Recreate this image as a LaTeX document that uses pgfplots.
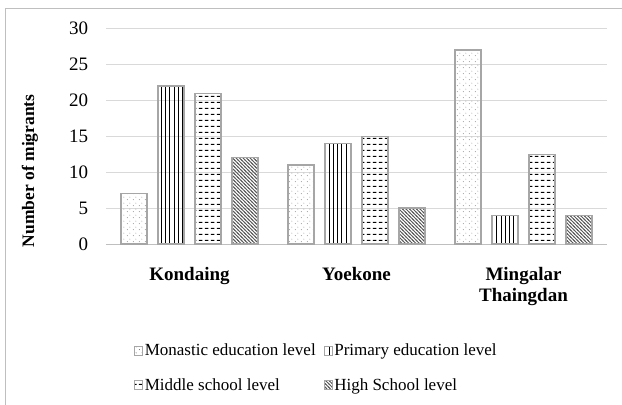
\documentclass[border=0pt]{standalone}
\usepackage{pgfplots}
\pgfplotsset{compat=1.18}
\usepackage{fontspec}
\setmainfont{Liberation Serif}
\usetikzlibrary{patterns}

\pgfdeclarepatternformonly{mydots}{\pgfqpoint{0bp}{0bp}}{\pgfqpoint{6bp}{6bp}}{\pgfqpoint{6bp}{6bp}}{%
  \pgfpathcircle{\pgfqpoint{1.5bp}{1.5bp}}{0.55bp}%
  \pgfpathcircle{\pgfqpoint{4.5bp}{4.5bp}}{0.55bp}%
  \pgfusepath{fill}}
\pgfdeclarepatternformonly{myvlines}{\pgfqpoint{0bp}{-1bp}}{\pgfqpoint{4.3bp}{5.3bp}}{\pgfqpoint{4.3bp}{4.3bp}}{%
  \pgfsetlinewidth{0.9bp}%
  \pgfpathmoveto{\pgfqpoint{2.15bp}{-1bp}}\pgfpathlineto{\pgfqpoint{2.15bp}{5.3bp}}%
  \pgfusepath{stroke}}
\pgfdeclarepatternformonly{mydashes}{\pgfqpoint{0bp}{0bp}}{\pgfqpoint{6bp}{6bp}}{\pgfqpoint{6bp}{6bp}}{%
  \pgfsetlinewidth{1.1bp}%
  \pgfpathmoveto{\pgfqpoint{1bp}{3bp}}\pgfpathlineto{\pgfqpoint{5bp}{3bp}}%
  \pgfusepath{stroke}}
\pgfdeclarepatternformonly{mynwlines}{\pgfqpoint{-1bp}{-1bp}}{\pgfqpoint{4.5bp}{4.5bp}}{\pgfqpoint{3.5bp}{3.5bp}}{%
  \pgfsetlinewidth{0.8bp}%
  \pgfpathmoveto{\pgfqpoint{-1bp}{4.5bp}}\pgfpathlineto{\pgfqpoint{4.5bp}{-1bp}}%
  \pgfusepath{stroke}}

\definecolor{gridc}{HTML}{D9D9D9}
\definecolor{barline}{HTML}{A6A6A6}
\definecolor{framec}{HTML}{BFBFBF}

\begin{document}
\fontsize{17bp}{20bp}\selectfont
\begin{tikzpicture}
\path[use as bounding box] (0bp,0bp) rectangle (622bp,-405bp);
\draw[framec, line width=1bp] (5.5bp,-405bp) -- (5.5bp,-8.5bp) -- (622bp,-8.5bp);
\begin{axis}[
  at={(106bp,-244bp)}, anchor=south west,
  scale only axis, width=501bp, height=215.5bp,
  xmin=-0.5, xmax=2.5, ymin=0, ymax=30,
  axis line style={draw=none},
  ytick={0,5,...,30},
  xtick={0,1,2},
  xticklabels={Kondaing,Yoekone,{Mingalar\\Thaingdan}},
  xticklabel style={font=\fontsize{19bp}{21bp}\selectfont\bfseries, align=center, yshift=-17bp},
  yticklabel style={font=\fontsize{19bp}{20bp}\selectfont, xshift=-12bp},
  /pgf/number format/assume math mode=true,
  major tick length=0pt,
  ymajorgrids, grid style={gridc, line width=1bp},
  ylabel={\bfseries Number of migrants},
  ylabel style={font=\fontsize{17.5bp}{20bp}\selectfont, at={(axis description cs:-0.152,0.34)}, anchor=center},
  ybar=11bp, bar width=26bp,
  every axis plot/.append style={draw=barline, line width=1.2bp},
  legend columns=2,
  legend cell align=left,
  legend style={draw=none, fill=none, at={(axis description cs:0.05,-0.445)}, anchor=north west,
    font=\fontsize{17bp}{20bp}\selectfont, row sep=16bp,
    /tikz/every even column/.append style={column sep=6bp}},
  legend image code/.code={\draw[#1, line width=0.6bp] (0bp,-4bp) rectangle (8bp,5bp);},
  clip=false,
]
\draw[framec, line width=1bp] (axis cs:-0.5,0) -- (axis cs:2.5,0);
\addplot[pattern=mydots, pattern color=black!55] coordinates {(0,7) (1,11) (2,27)};
\addplot[pattern=myvlines, pattern color=black] coordinates {(0,22) (1,14) (2,4)};
\addplot[pattern=mydashes, pattern color=black] coordinates {(0,21) (1,15) (2,12.5)};
\addplot[pattern=mynwlines, pattern color=black!65] coordinates {(0,12) (1,5) (2,4)};
\legend{Monastic education level,Primary education level,Middle school level,High School level}
\end{axis}
\end{tikzpicture}
\end{document}
